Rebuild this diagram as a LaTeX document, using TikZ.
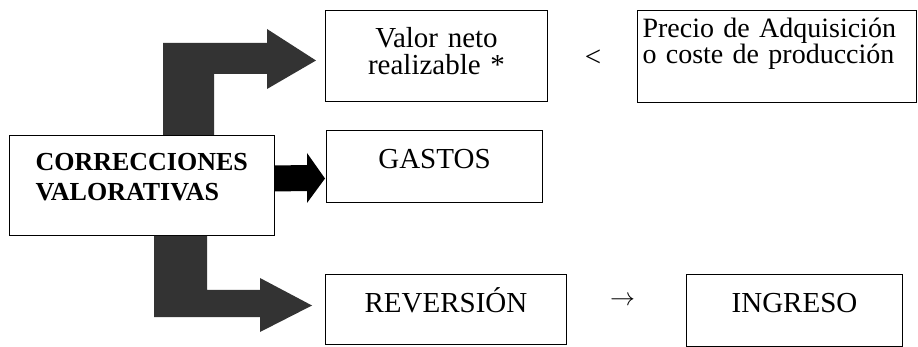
\documentclass[tikz,border=0pt]{standalone}
\usepackage{fontspec}
\setmainfont{Liberation Serif}
\definecolor{arrowgray}{RGB}{51,51,51}
\begin{document}
\begin{tikzpicture}[x=1pt,y=-1pt,
    box/.style={draw,line width=1pt,anchor=north west,inner ysep=0pt,inner xsep=0pt,font=\fontsize{29}{27.5}\selectfont},
    bigarrow/.style={fill=arrowgray}]
    \useasboundingbox (0,0) rectangle (918,347);
    \node[box,text width=213pt,inner xsep=26pt,align=left,text height=35pt,text depth=65pt,
        font=\fontsize{26}{30}\selectfont\bfseries] (corr) at (9,135) {CORRECCIONES\\VALORATIVAS};
    \node[box,text width=222pt,align=center,text height=37pt,text depth=54pt] (valor) at (325,10) {Valor neto\\realizable *};
    \node[box,text width=269pt,inner xsep=5pt,align=left,text height=27pt,text depth=65pt,
        font=\fontsize{28}{26.5}\selectfont] (precio) at (637,10) {Precio de Adquisición\\o coste de producción};
    \node[box,text width=216pt,align=center,text height=38pt,text depth=34pt] (gastos) at (326,130) {GASTOS};
    \node[box,text width=241pt,align=center,text height=38pt,text depth=32pt] (revers) at (325,274) {REVERSIÓN};
    \node[box,text width=216pt,align=center,text height=38pt,text depth=34pt] (ingreso) at (686,274) {INGRESO};
    \node[font=\fontsize{29}{29}\selectfont] (lt) at (593,58.5) {<};
    \node[font=\fontsize{25}{25}\selectfont] (to) at (622.5,300.5) {$\rightarrow$};
    \coordinate (tipA) at ([xshift=-9pt,yshift=-4.5pt]valor.west);
    \coordinate (tipB) at ([xshift=-1pt,yshift=-12pt]gastos.west);
    \coordinate (tipC) at ([xshift=-13pt,yshift=4pt]revers.west);
    \fill[bigarrow] ([xshift=154pt]corr.north west) -- (163,43) -- (267,43) -- (267,29) -- (tipA)
        -- (267,89) -- (267,74) -- (214,74) -- ([xshift=205pt]corr.north west) -- cycle;
    \fill ([yshift=20pt]corr.east) -- (307,165) -- (307,153) -- (tipB) -- (307,203) -- (307,191)
        -- ([yshift=-6pt]corr.east) -- cycle;
    \fill[bigarrow] ([xshift=145pt]corr.south west) -- (154,317) -- (260,317) -- (260,332) -- (tipC)
        -- (260,278) -- (260,290) -- (207,290) -- ([xshift=198pt]corr.south west) -- cycle;
\end{tikzpicture}
\end{document}
